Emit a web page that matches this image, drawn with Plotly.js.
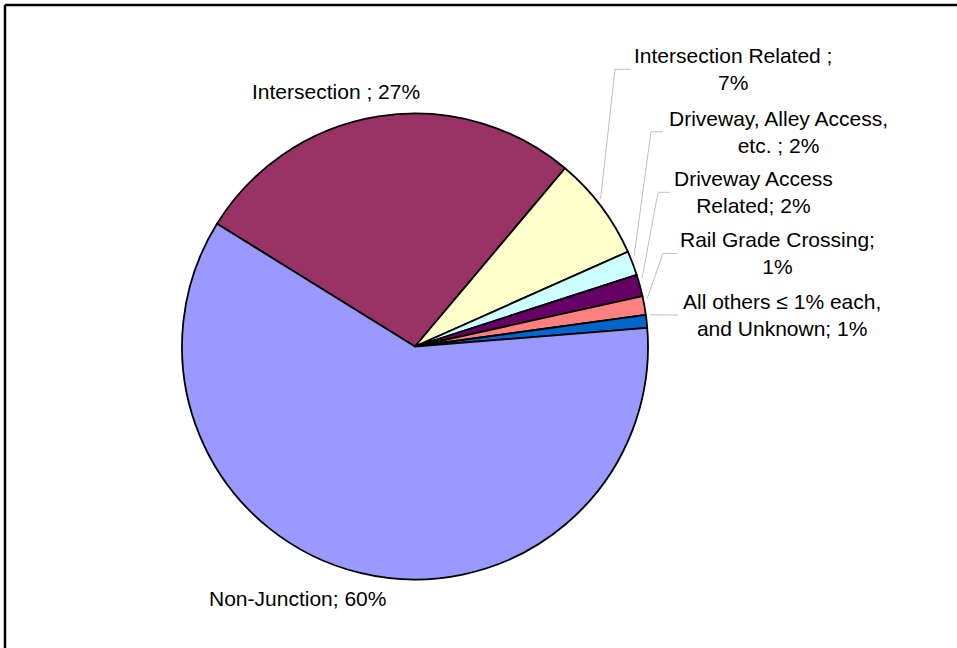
<!DOCTYPE html>
<html>
<head>
<meta charset="utf-8">
<script src="https://cdn.plot.ly/plotly-3.0.1.min.js"></script>
<style>
html,body{margin:0;padding:0;background:#fff;}
#chart{width:957px;height:648px;}
</style>
</head>
<body>
<div id="chart"></div>
<script>
// ---- data (clockwise from the Intersection / Non-Junction boundary) ----
const categories = ["Intersection", "Intersection Related", "Driveway, Alley Access, etc.",
                    "Driveway Access Related", "Rail Grade Crossing",
                    "All others ≤ 1% each, and Unknown", "Non-Junction"];
const values = [27.3, 7.2, 1.7, 1.5, 1.3, 0.9, 60.1];
const colors = ["#993366", "#FFFFCC", "#CCFFFF", "#660066", "#FF8080", "#0066CC", "#9999FF"];
const labelText = ["Intersection ; 27%", "Intersection Related ;<br>7%",
                   "Driveway, Alley Access,<br>etc. ; 2%", "Driveway Access<br>Related; 2%",
                   "Rail Grade Crossing;<br>1%", "All others ≤ 1% each,<br>and Unknown; 1%",
                   "Non-Junction; 60%"];

// ---- layout constants (pixels) ----
const W = 957, H = 648;
const cx = 415, cy = 346.5, R = 233;
const rotation = -58.2;               // clockwise from 12 o'clock
const labelCenter = [[335.5, 92], [733, 69.3], [778.7, 131.8], [753.8, 192.3],
                     [777, 253.4], [781.7, 315.1], [297, 598.3]];
const hasLeader = [false, true, true, true, true, true, false];
const elbowX = [null, 615, 651, 658, 663, null, null];
const endX = [null, 631, 663, 670, 677, 678, null];

const px = x => x / W;
const py = y => 1 - y / H;

const annotations = labelText.map((t, i) => ({
  text: t, xref: 'paper', yref: 'paper',
  x: px(labelCenter[i][0]), y: py(labelCenter[i][1]),
  xanchor: 'center', yanchor: 'middle', align: 'center', showarrow: false,
  font: {family: '"Liberation Sans", Arial, sans-serif', size: 21, color: '#000'}
}));

// leader lines: from slice mid-angle on the rim to the label
const total = values.reduce((a, b) => a + b, 0);
const shapes = [];
let cum = 0;
const startMath = 90 - rotation;
values.forEach((v, i) => {
  const a0 = startMath - cum / total * 360;
  const a1 = a0 - v / total * 360;
  cum += v;
  if (!hasLeader[i]) return;
  const mid = ((a0 + a1) / 2 + 1.5) * Math.PI / 180;
  const r0 = R + 4;
  const x0 = cx + r0 * Math.cos(mid), y0 = cy - r0 * Math.sin(mid);
  const ly = labelCenter[i][1];
  let path = `M ${px(x0)},${py(y0)}`;
  if (elbowX[i] !== null) path += ` L ${px(elbowX[i])},${py(ly)}`;
  path += ` L ${px(endX[i])},${py(ly)}`;
  shapes.push({type: 'path', xref: 'paper', yref: 'paper', path: path,
               line: {color: '#BFBFBF', width: 1}});
});
// frame (top and left edges)
shapes.push({type: 'line', xref: 'paper', yref: 'paper', x0: px(5), x1: 1, y0: py(5), y1: py(5),
             line: {color: '#000', width: 2.5}});
shapes.push({type: 'line', xref: 'paper', yref: 'paper', x0: px(5), x1: px(5), y0: py(5), y1: 0,
             line: {color: '#000', width: 2.5}});

const trace = {
  type: 'pie', labels: categories, values: values, sort: false,
  direction: 'clockwise', rotation: rotation,
  marker: {colors: colors, line: {color: '#000', width: 1.8}},
  textinfo: 'none', hoverinfo: 'none', showlegend: false,
  domain: {x: [px(cx - R), px(cx + R)], y: [py(cy + R), py(cy - R)]}
};

Plotly.newPlot('chart', [trace], {
  width: W, height: H, margin: {l: 0, r: 0, t: 0, b: 0},
  paper_bgcolor: '#fff', plot_bgcolor: '#fff', showlegend: false,
  annotations: annotations, shapes: shapes
}, {staticPlot: true});
</script>
</body>
</html>
